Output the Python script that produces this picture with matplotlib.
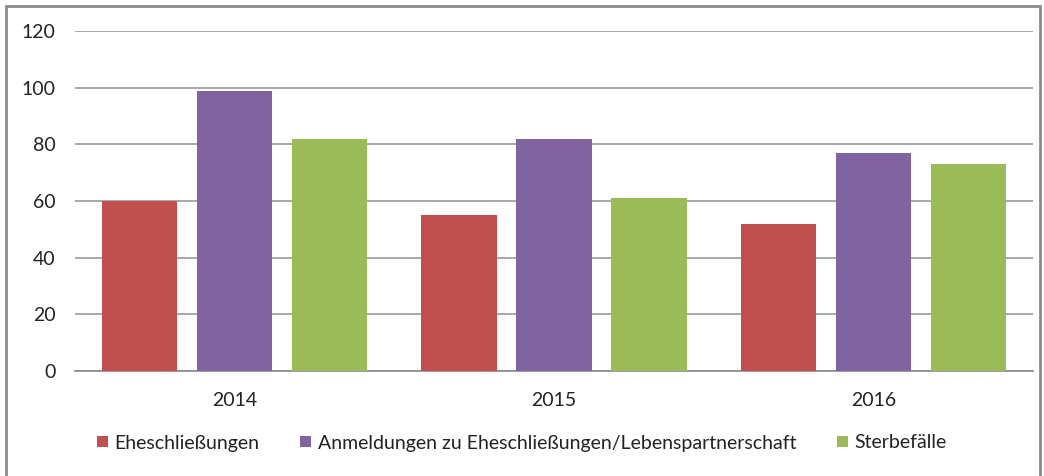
import matplotlib
matplotlib.use("Agg")
import matplotlib.pyplot as plt
from matplotlib.patches import Rectangle
import numpy as np

plt.rcParams['font.family'] = ['Lato', 'DejaVu Sans']

years = ["2014", "2015", "2016"]
series_names = ["Eheschließungen", "Anmeldungen zu Eheschließungen/Lebenspartnerschaft", "Sterbefälle"]
ehe = [60, 55, 52]
anm = [99, 82, 77]
sterbe = [82, 61, 73]
colors = ["#C0504D", "#8064A2", "#9BBB59"]
yticks = [0, 20, 40, 60, 80, 100, 120]

W, H = 1044, 476
fig = plt.figure(figsize=(W / 100, H / 100), dpi=100)
ax = fig.add_axes([75 / W, 1 - 371 / H, (1033 - 75) / W, (371 - 31) / H])

x = np.arange(len(years))
offs = [-0.2975, 0.0, 0.2975]
width = 0.235
handles = []
for vals, off, c, name in zip([ehe, anm, sterbe], offs, colors, series_names):
    b = ax.bar(x + off, vals, width=width, color=c, label=name, zorder=3)
    handles.append(b)

ax.set_xlim(-0.5, 2.5)
ax.set_ylim(0, 120)
ax.set_yticks(yticks)
ax.set_yticklabels([str(v) for v in yticks], fontsize=14, color="#222222")
ax.set_xticks(x)
ax.set_xticklabels(years, fontsize=14, color="#222222")
ax.tick_params(axis='both', length=0)
ax.tick_params(axis='y', pad=14)
ax.tick_params(axis='x', pad=15)
ax.yaxis.grid(True, color="#9a9a9a", linewidth=1.2, zorder=0)
for s in ["top", "right", "left"]:
    ax.spines[s].set_visible(False)
ax.spines["bottom"].set_color("#8a8a8a")
ax.spines["bottom"].set_linewidth(1.2)

fig.legend(handles=handles, labels=series_names, loc="center", bbox_to_anchor=(0.5, 1 - 443 / H),
           ncol=3, frameon=False, fontsize=14, handlelength=0.55, handleheight=0.55,
           handletextpad=0.35, columnspacing=2.1, labelcolor="#222222")

fig.patches.append(Rectangle((6 / W, -0.01), (1040 - 6) / W, 1 - 6 / H + 0.01, transform=fig.transFigure,
                             fill=False, edgecolor="#8c8c8c", linewidth=2))

fig.savefig("out.png", dpi=100)
